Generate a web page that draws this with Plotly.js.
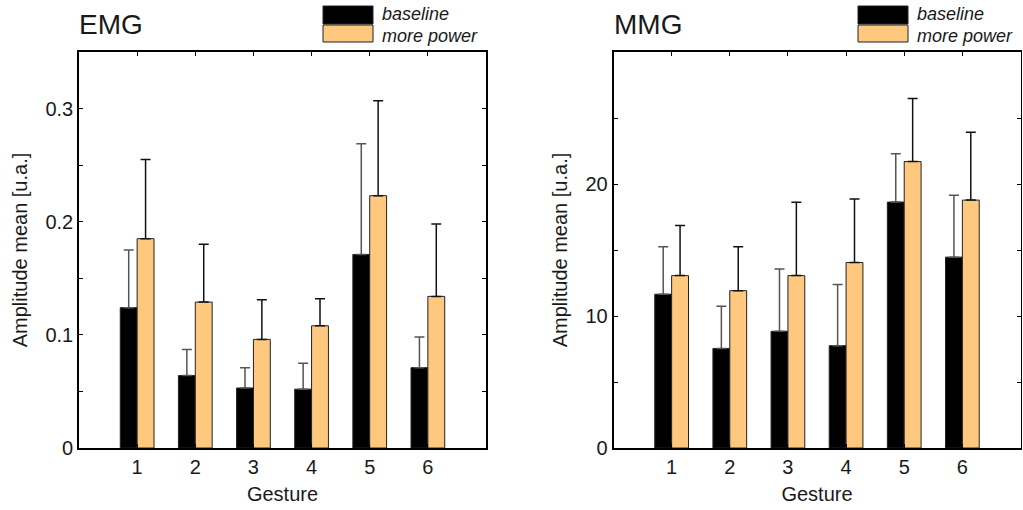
<!DOCTYPE html>
<html><head><meta charset="utf-8">
<script src="https://cdn.plot.ly/plotly-3.0.1.min.js"></script>
<style>html,body{margin:0;padding:0;background:#fff}#chart{width:1023px;height:510px}</style>
</head><body><div id="chart"></div>
<script>
// ---- data ----
const gestures = [1, 2, 3, 4, 5, 6];
const gestureLabels = ['1', '2', '3', '4', '5', '6'];
const seriesNames = ['baseline', 'more power'];
const panelTitles = ['EMG', 'MMG'];
const xTitle = 'Gesture';
const yTitle = 'Amplitude mean [u.a.]';
const emgTicks = [0, 0.1, 0.2, 0.3];
const emgTickLabels = ['0', '0.1', '0.2', '0.3'];
const mmgTicks = [0, 10, 20];
const mmgTickLabels = ['0', '10', '20'];

const emgBaseline    = [0.124, 0.064, 0.053, 0.052, 0.171, 0.071];
const emgBaselineSd  = [0.051, 0.023, 0.018, 0.023, 0.098, 0.027];
const emgPower       = [0.185, 0.129, 0.096, 0.108, 0.223, 0.134];
const emgPowerSd     = [0.070, 0.051, 0.035, 0.024, 0.084, 0.064];

const mmgBaseline    = [11.65, 7.54, 8.84, 7.75, 18.63, 14.46];
const mmgBaselineSd  = [3.59, 3.19, 4.73, 4.63, 3.67, 4.68];
const mmgPower       = [13.06, 11.92, 13.06, 14.05, 21.70, 18.78];
const mmgPowerSd     = [3.80, 3.32, 5.55, 4.81, 4.78, 5.14];

// ---- style ----
const W = 1023, H = 510;
const FONT = 'Liberation Sans, Arial, Helvetica, sans-serif';
const TXT = '#1a1a1a';
const colBase = '#000000';
const colPower = '#FFC87F';
const px = x => x / W;
const py = y => 1 - y / H;

function barTrace(y, sd, name, color, errColor, xa, ya) {
  return {
    type: 'bar', x: gestures, y: y, name: name, xaxis: xa, yaxis: ya,
    marker: {color: color, line: {color: '#222', width: 1}},
    error_y: {type: 'data', symmetric: false, array: sd, color: errColor, thickness: 1.5, width: 5},
    showlegend: false, hoverinfo: 'x+y'
  };
}

const data = [
  barTrace(emgBaseline, emgBaselineSd, seriesNames[0], colBase, '#555555', 'x', 'y'),
  barTrace(emgPower, emgPowerSd, seriesNames[1], colPower, '#111111', 'x', 'y'),
  barTrace(mmgBaseline, mmgBaselineSd, seriesNames[0], colBase, '#555555', 'x2', 'y2'),
  barTrace(mmgPower, mmgPowerSd, seriesNames[1], colPower, '#111111', 'x2', 'y2')
];

const yDomain = [py(448), py(52)];
function xAxis(domain, anchor) {
  return {
    domain: domain, anchor: anchor, range: [0, 7],
    tickmode: 'array', tickvals: gestures, ticktext: gestureLabels,
    ticks: 'inside', ticklen: 4, tickwidth: 1, tickcolor: '#000',
    showline: true, linecolor: '#000', linewidth: 1.8, mirror: 'allticks',
    showgrid: false, zeroline: false,
    tickfont: {family: FONT, size: 20, color: TXT},
    title: {text: xTitle, font: {family: FONT, size: 20, color: TXT}, standoff: 10}
  };
}
function yAxis(range, tv, tt, minor, anchor) {
  return {
    domain: yDomain, anchor: anchor, range: range,
    tickmode: 'array', tickvals: tv, ticktext: tt,
    ticks: 'inside', ticklen: 4, tickwidth: 1, tickcolor: '#000',
    minor: {dtick: minor, tick0: 0, ticks: 'inside', ticklen: 4, tickwidth: 1, tickcolor: '#000'},
    showline: true, linecolor: '#000', linewidth: 1.8, mirror: 'allticks',
    showgrid: false, zeroline: false,
    tickfont: {family: FONT, size: 20, color: TXT},
    title: {text: yTitle, font: {family: FONT, size: 20, color: TXT}, standoff: 12}
  };
}

// legend swatches and texts (layout decoration)
const shapes = [];
const annotations = [];
const legendLeft = [323, 858];
const panelLeft = [80, 615];
[0, 1].forEach(i => {
  const x0 = legendLeft[i];
  [[colBase, 6, 24], [colPower, 25, 42]].forEach(([c, y0, y1]) => {
    shapes.push({type: 'rect', xref: 'paper', yref: 'paper',
      x0: px(x0), x1: px(x0 + 50), y0: py(y1), y1: py(y0),
      fillcolor: c, line: {color: '#222', width: 1}});
  });
  annotations.push({xref: 'paper', yref: 'paper', x: px(x0 + 58), y: py(25), xanchor: 'left', yanchor: 'bottom',
    text: '<i>' + seriesNames[0] + '</i>', showarrow: false, borderpad: 0, font: {family: FONT, size: 18, color: TXT}});
  annotations.push({xref: 'paper', yref: 'paper', x: px(x0 + 58), y: py(25), xanchor: 'left', yanchor: 'top',
    text: '<i>' + seriesNames[1] + '</i>', showarrow: false, borderpad: 0, font: {family: FONT, size: 18, color: TXT}});
  annotations.push({xref: 'paper', yref: 'paper', x: px(panelLeft[i] - 3), y: py(24), xanchor: 'left', yanchor: 'middle',
    text: panelTitles[i], showarrow: false, font: {family: FONT, size: 28, color: TXT}});
});

const layout = {
  width: W, height: H,
  margin: {l: 0, r: 0, t: 0, b: 0},
  paper_bgcolor: '#fff', plot_bgcolor: '#fff',
  barmode: 'group', bargap: 0.42, bargroupgap: 0,
  showlegend: false,
  xaxis: xAxis([px(79), px(486)], 'y'),
  yaxis: yAxis([0, 0.35], emgTicks, emgTickLabels, 0.05, 'x'),
  xaxis2: xAxis([px(613.5), px(1020.5)], 'y2'),
  yaxis2: yAxis([0, 30], mmgTicks, mmgTickLabels, 5, 'x2'),
  shapes: shapes,
  annotations: annotations
};

Plotly.newPlot('chart', data, layout, {displayModeBar: false, staticPlot: true});
</script>
</body></html>
